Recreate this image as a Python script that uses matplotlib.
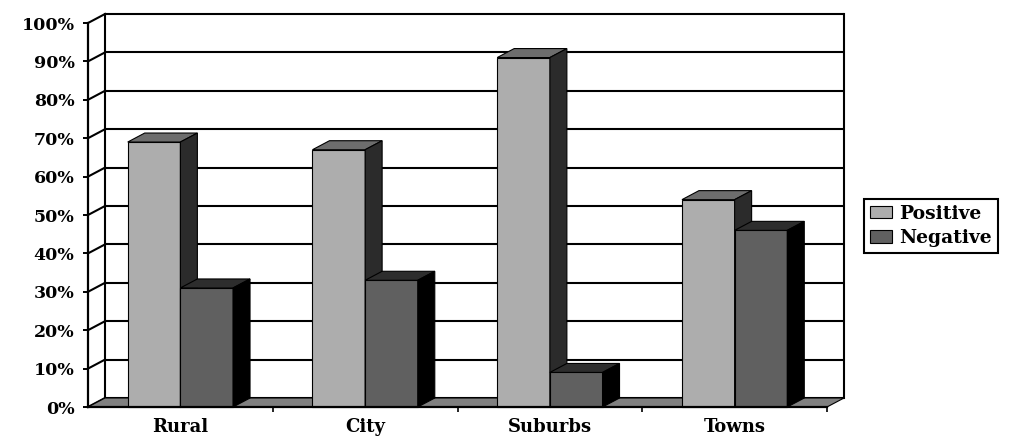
import matplotlib
matplotlib.use("Agg")
import matplotlib.pyplot as plt
from matplotlib.patches import Polygon, Patch

# Survey results by area type (percent of respondents)
categories = ["Rural", "City", "Suburbs", "Towns"]
positive = [69, 67, 91, 54]
negative = [31, 33, 9, 46]
series_names = ["Positive", "Negative"]
y_ticks = list(range(0, 101, 10))
y_tick_labels = [f"{v}%" for v in y_ticks]

W, H = 1012, 437
fig = plt.figure(figsize=(W / 100, H / 100), dpi=100)
fig.patch.set_facecolor("white")

# Front plane of the 3-D box, in pixels
left_px, right_px, bottom_px, top_px = 88, 827, 407, 23
ax = fig.add_axes([left_px / W, (H - bottom_px) / H,
                   (right_px - left_px) / W, (bottom_px - top_px) / H])
ncat = len(categories)
ax.set_xlim(0, ncat)
ax.set_ylim(0, 100)
ax.set_facecolor("none")

# Depth offset of the back wall (pixels -> data units)
px_per_x = (right_px - left_px) / ncat
px_per_y = (bottom_px - top_px) / 100
DX = 17 / px_per_x
DY = 9 / px_per_y

font = dict(family="DejaVu Serif", weight="bold")
grid_lw = 1.5

# Back wall grid, side-wall slants and wall edges
for v in y_ticks:
    ax.plot([DX, ncat + DX], [v + DY, v + DY], color="black", lw=grid_lw,
            clip_on=False, zorder=1, solid_capstyle="butt")
    ax.plot([0, DX], [v, v + DY], color="black", lw=grid_lw,
            clip_on=False, zorder=1)
ax.plot([DX, DX], [DY, 100 + DY], color="black", lw=grid_lw, clip_on=False, zorder=1)
ax.plot([ncat + DX, ncat + DX], [DY, 100 + DY], color="black", lw=grid_lw,
        clip_on=False, zorder=1)

# Floor
ax.add_patch(Polygon([(0, 0), (ncat, 0), (ncat + DX, DY), (DX, DY)],
                     closed=True, facecolor="#808080", edgecolor="black",
                     lw=0.8, clip_on=False, zorder=2))

# 3-D columns
bar_w = 0.285
styles = [
    dict(front="#adadad", top="#6d6d6d", side="#2b2b2b"),
    dict(front="#606060", top="#2d2d2d", side="#000000"),
]
z = 3
for i in range(ncat):
    center = i + 0.5
    for s, (vals, st) in enumerate(zip([positive, negative], styles)):
        v = vals[i]
        x0 = center - bar_w if s == 0 else center
        x1 = x0 + bar_w
        ax.bar(x0, v, width=bar_w, align="edge", color=st["front"],
               edgecolor="black", linewidth=0.8, zorder=z, clip_on=False)
        ax.add_patch(Polygon([(x0, v), (x1, v), (x1 + DX, v + DY), (x0 + DX, v + DY)],
                             closed=True, facecolor=st["top"], edgecolor="black",
                             lw=0.8, clip_on=False, zorder=z))
        ax.add_patch(Polygon([(x1, 0), (x1 + DX, DY), (x1 + DX, v + DY), (x1, v)],
                             closed=True, facecolor=st["side"], edgecolor="black",
                             lw=0.8, clip_on=False, zorder=z))
        z += 1

# Axes, ticks and labels
for side in ("top", "right"):
    ax.spines[side].set_visible(False)
for side in ("left", "bottom"):
    ax.spines[side].set_linewidth(1.6)
    ax.spines[side].set_zorder(50)

ax.set_yticks(y_ticks)
ax.set_yticklabels(y_tick_labels, fontsize=12.5, **font)
ax.tick_params(axis="y", direction="out", length=3.8, width=1.4, pad=6)

ax.set_xticks([i + 0.5 for i in range(ncat)])
ax.set_xticklabels(categories, fontsize=13, **font)
ax.set_xticks(list(range(1, ncat + 1)), minor=True)
ax.tick_params(axis="x", which="major", length=0, pad=8)
ax.tick_params(axis="x", which="minor", direction="out", length=3.8, width=1.2)

# Legend
handles = [Patch(facecolor=st["front"], edgecolor="black", linewidth=0.8) for st in styles]
leg = fig.legend(handles, series_names, loc="upper left",
                 bbox_to_anchor=(864 / W, 1 - 199 / H), borderaxespad=0,
                 frameon=True, fancybox=False, edgecolor="black", framealpha=1,
                 prop=dict(family="DejaVu Serif", weight="bold", size=13.5),
                 handlelength=1.2, handleheight=0.65, handletextpad=0.4,
                 borderpad=0.3, labelspacing=0.35)
leg.get_frame().set_linewidth(1.5)

fig.savefig("out.png", dpi=100, facecolor="white")
